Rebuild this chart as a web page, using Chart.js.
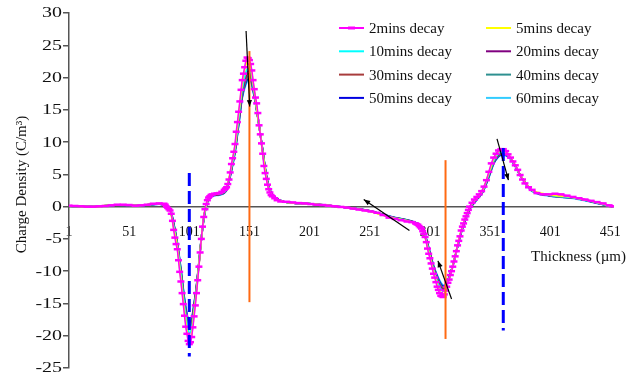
<!DOCTYPE html>
<html>
<head>
<meta charset="utf-8">
<script src="https://cdn.jsdelivr.net/npm/chart.js@4.4.1/dist/chart.umd.min.js"></script>
<style>
  html, body { margin: 0; padding: 0; background: #fff; }
</style>
</head>
<body>
<canvas id="chart" width="638" height="379"></canvas>
<script>
/***********************
 * DATA
 ***********************/
const seriesNames = ["2mins decay", "5mins decay", "10mins decay", "20mins decay",
                     "30mins decay", "40mins decay", "50mins decay", "60mins decay"];
const seriesColors = ["#FF00FF", "#FFFF00", "#00FFFF", "#800080",
                      "#A83C3C", "#2E9090", "#0000E0", "#33CCFF"];

// 2 mins curve (dense, with markers)
const xFine = [
  1, 6, 11, 16, 21, 26, 31, 36, 41, 46, 51, 56, 61, 66, 71, 76, 80,
  81, 82, 83, 84, 85, 86, 87, 88, 89, 90, 91, 92, 93, 94, 95, 96, 97, 98, 99, 100,
  101, 102, 103, 104, 105, 106, 107, 108, 109, 110, 111, 112, 113, 114, 115, 116, 117, 118, 119, 120,
  122, 124, 126, 128, 130, 131, 132,
  133, 134, 135, 136, 137, 138, 139, 140, 141, 142, 143, 144, 145, 146, 147, 148, 149, 150, 151, 152,
  153, 154, 155, 156, 157, 158, 159, 160, 161, 162, 163, 164, 165, 166, 167, 168, 169, 170, 172, 174, 177,
  182, 187, 192, 197, 202, 207, 212, 217, 222, 227, 232, 237, 242, 247, 252, 257, 262, 267, 272, 277, 282, 286, 289,
  290, 291, 292, 293, 294, 295, 296, 297, 298, 299, 300, 301, 302, 303, 304, 305, 306, 307, 308, 309, 310, 311, 312,
  313, 314, 315, 316, 317, 318, 319, 320, 321, 322, 323, 324, 325, 326, 327, 328, 329, 330, 331, 332, 333, 334,
  336, 338, 340, 342, 344, 346, 348, 350, 352, 354, 356, 358, 360, 362, 364, 366, 368, 370, 372, 374, 376, 378, 380,
  383, 386, 390, 395, 400, 405, 410, 415, 420, 425, 430, 435, 440, 445, 450, 453
];
const decay2 = [
  0.15, 0.1, 0.05, 0.0, 0.0, 0.05, 0.1, 0.2, 0.3, 0.3, 0.25, 0.15, 0.2, 0.3, 0.45, 0.5, 0.45,
  0.3, 0.0, -0.2, -0.4, -0.6, -1.1, -2.2, -3.6, -4.8, -5.8, -6.6, -8.3, -10.1, -11.6, -13.4, -15.1, -16.9, -18.6, -19.7, -20.8,
  -21.3, -21.0, -20.2, -18.7, -17.0, -15.3, -13.4, -11.4, -9.3, -7.1, -5.0, -3.1, -1.6, -0.4, 0.4, 1.0, 1.4, 1.6, 1.8, 1.9,
  2.0, 2.05, 2.1, 2.3, 2.6, 2.8, 3.0,
  3.5, 4.2, 5.3, 6.6, 7.5, 8.5, 9.7, 11.6, 13.1, 14.7, 16.3, 18.1, 19.6, 20.6, 21.6, 22.6, 23.1, 23.0, 22.7, 22.1,
  21.1, 19.6, 18.2, 16.9, 16.0, 14.5, 12.6, 11.2, 9.8, 8.2, 6.3, 5.2, 4.3, 3.4, 2.7, 2.2, 1.8, 1.6, 1.3, 1.0, 0.8,
  0.75, 0.65, 0.55, 0.5, 0.4, 0.3, 0.25, 0.15, 0.05, -0.05, -0.15, -0.3, -0.45, -0.6, -0.75, -0.95, -1.3, -1.7, -1.9, -2.1, -2.3, -2.4, -2.6,
  -2.7, -2.8, -3.0, -3.2, -3.4, -3.8, -4.2, -4.7, -5.5, -6.5, -7.3, -8.0, -8.8, -9.6, -10.4, -11.0, -11.7, -12.4, -12.9, -13.4, -13.8, -13.9, -14.0,
  -13.6, -13.0, -12.4, -11.8, -11.3, -10.6, -10.0, -9.3, -8.5, -7.7, -6.9, -6.0, -5.3, -4.6, -3.7, -3.1, -2.6, -2.0, -1.5, -1.0, -0.5, 0.0,
  0.6, 1.1, 1.5, 1.9, 2.4, 3.1, 4.1, 5.4, 6.7, 7.6, 8.2, 8.7, 8.9, 8.9, 8.6, 8.1, 7.6, 7.0, 6.4, 5.7, 4.9, 4.2, 3.6,
  3.0, 2.6, 2.1, 1.9, 1.9, 2.0, 1.9, 1.7, 1.5, 1.3, 1.1, 0.9, 0.7, 0.5, 0.2, 0.05
];

// later decay curves (shared thickness grid)
const xCoarse = [
  1, 20, 40, 60, 76, 82, 85, 88, 91, 94, 97, 99, 101, 103, 105, 107, 109, 111, 113, 116,
  120, 126, 132, 136, 139, 142, 145, 148, 150, 152, 154, 156, 159, 162, 165, 168, 172, 180, 200, 225,
  250, 270, 285, 292, 296, 300, 304, 308, 311, 313, 315, 318, 321, 324, 327, 330, 334, 340, 345, 350,
  354, 358, 361, 364, 368, 372, 377, 385, 400, 420, 440, 453
];
const decay5 = [
  0.1, 0.0, 0.28, 0.2, 0.48,  0.05, -0.5, -3.3, -6.3, -11.2,  -16.2, -19.2, -20.8, -19.8, -16.5,
  -13.1, -9.1, -5.0, -1.7, 0.9,  1.85, 2.05, 2.9, 6.3, 9.4,  14.2, 19.0, 22.0, 22.5, 21.8,
  19.3, 16.7, 12.6, 8.4, 4.5,  2.3, 1.35, 0.75, 0.45, 0.0,  -0.68, -1.75, -2.35, -2.95, -4.1,
  -7.0, -10.0, -12.5, -13.5, -13.4,  -12.3, -10.6, -8.5, -6.0, -3.7,  -2.0, -0.1, 1.4, 2.6, 5.2,
  7.4, 8.5, 8.7, 8.5, 7.6,  6.4, 4.6, 2.7, 1.85, 1.45,  0.65, 0.02
];
const decay10 = [
  0.1, 0.0, 0.25, 0.2, 0.45,  0.1, -0.4, -3.0, -6.0, -10.5,  -15.3, -18.0, -19.6, -18.8, -16.0,
  -12.8, -9.0, -5.0, -1.8, 0.8,  1.8, 2.0, 2.8, 6.0, 9.0,  13.6, 18.2, 20.8, 21.4, 21.0,
  18.9, 16.5, 12.6, 8.5, 4.6,  2.4, 1.4, 0.75, 0.45, 0.0,  -0.65, -1.7, -2.3, -2.9, -4.0,
  -6.8, -9.7, -12.0, -13.0, -13.1,  -12.2, -10.6, -8.5, -6.1, -3.8,  -2.1, -0.2, 1.3, 2.5, 5.0,
  7.1, 8.2, 8.5, 8.3, 7.5,  6.3, 4.6, 2.6, 1.8, 1.4,  0.6, 0.0
];
const decay20 = [
  0.1, 0.0, 0.25, 0.2, 0.44,  0.1, -0.4, -2.9, -5.9, -10.3,  -15.0, -17.6, -19.0, -18.3, -15.7,
  -12.6, -8.9, -5.0, -1.8, 0.8,  1.75, 1.95, 2.75, 5.9, 8.8,  13.3, 17.8, 20.3, 21.0, 20.6,
  18.7, 16.4, 12.6, 8.6, 4.7,  2.4, 1.4, 0.75, 0.45, 0.0,  -0.64, -1.68, -2.28, -2.85, -3.95,
  -6.7, -9.5, -11.8, -12.8, -12.9,  -12.1, -10.5, -8.5, -6.1, -3.9,  -2.2, -0.25, 1.25, 2.45, 4.9,
  7.0, 8.1, 8.4, 8.2, 7.5,  6.3, 4.6, 2.6, 1.75, 1.4,  0.6, 0.0
];
const decay30 = [
  0.1, 0.0, 0.24, 0.19, 0.43,  0.1, -0.35, -2.8, -5.8, -10.1,  -14.8, -17.3, -18.7, -18.0, -15.5,
  -12.5, -8.8, -5.0, -1.9, 0.75,  1.7, 1.9, 2.7, 5.8, 8.7,  13.1, 17.5, 19.9, 20.6, 20.3,
  18.5, 16.3, 12.6, 8.6, 4.8,  2.5, 1.45, 0.75, 0.45, 0.0,  -0.63, -1.66, -2.26, -2.82, -3.9,
  -6.6, -9.4, -11.6, -12.6, -12.7,  -12.0, -10.5, -8.5, -6.1, -3.9,  -2.2, -0.3, 1.2, 2.4, 4.8,
  6.9, 8.0, 8.3, 8.2, 7.5,  6.3, 4.6, 2.6, 1.75, 1.4,  0.6, 0.0
];
const decay40 = [
  0.1, 0.0, 0.23, 0.19, 0.42,  0.12, -0.3, -2.7, -5.7, -9.9,  -14.6, -17.0, -18.4, -17.7, -15.3,
  -12.4, -8.8, -5.0, -1.9, 0.7,  1.7, 1.9, 2.65, 5.7, 8.6,  12.9, 17.2, 19.5, 20.2, 20.0,
  18.3, 16.2, 12.6, 8.7, 4.8,  2.5, 1.45, 0.75, 0.45, 0.0,  -0.62, -1.64, -2.24, -2.8, -3.85,
  -6.5, -9.3, -11.4, -12.4, -12.5,  -11.9, -10.4, -8.5, -6.2, -4.0,  -2.3, -0.35, 1.15, 2.35, 4.7,
  6.8, 7.9, 8.2, 8.1, 7.5,  6.3, 4.6, 2.6, 1.7, 1.35,  0.6, 0.0
];
const decay50 = [
  0.1, 0.0, 0.22, 0.18, 0.41,  0.12, -0.3, -2.6, -5.6, -9.7,  -14.4, -16.7, -18.1, -17.5, -15.1,
  -12.3, -8.7, -5.0, -2.0, 0.7,  1.65, 1.85, 2.6, 5.6, 8.5,  12.7, 17.0, 19.2, 19.8, 19.7,
  18.1, 16.1, 12.6, 8.7, 4.9,  2.6, 1.5, 0.75, 0.45, 0.0,  -0.61, -1.62, -2.22, -2.78, -3.8,
  -6.4, -9.2, -11.2, -12.2, -12.3,  -11.8, -10.4, -8.5, -6.2, -4.0,  -2.3, -0.4, 1.1, 2.3, 4.6,
  6.7, 7.8, 8.1, 8.0, 7.4,  6.3, 4.6, 2.6, 1.7, 1.35,  0.55, 0.0
];
const decay60 = [
  0.1, 0.0, 0.22, 0.18, 0.4,  0.13, -0.25, -2.5, -5.5, -9.6,  -14.2, -16.5, -17.8, -17.3, -15.0,
  -12.2, -8.7, -5.0, -2.0, 0.65,  1.6, 1.8, 2.55, 5.5, 8.4,  12.5, 16.8, 18.9, 19.5, 19.4,
  17.9, 16.0, 12.6, 8.8, 4.9,  2.6, 1.5, 0.75, 0.45, 0.0,  -0.6, -1.6, -2.2, -2.75, -3.75,
  -6.3, -9.1, -11.0, -12.0, -12.2,  -11.7, -10.3, -8.5, -6.2, -4.1,  -2.4, -0.45, 1.05, 2.25, 4.5,
  6.6, 7.7, 8.0, 7.9, 7.4,  6.2, 4.5, 2.5, 1.65, 1.3,  0.5, 0.0
];
const laterCurves = [decay5, decay10, decay20, decay30, decay40, decay50, decay60];

const xTicks = [1, 51, 101, 151, 201, 251, 301, 351, 401, 451];
const xMin = 1, xMax = 454;
const yMin = -25, yMax = 30, yStep = 5;

// drawn-on markers, in data units: [x, yTop, yBottom]
const orangeMarks = [[151, 24.1, -14.8], [314, 7.2, -20.5]];
const blueMarks = [[101, 5.2, -23.2], [362, 9.1, -19.2]];
// arrows: [xFrom, yFrom, xTo, yTo]
const arrows = [[148.2, 27.2, 151.2, 15.5], [284, -3.7, 246, 1.1], [319, -14.3, 307.7, -8.4], [356.8, 10.5, 366.3, 4.1]];

const SERIF = "'Liberation Serif', 'Times New Roman', serif";

/***********************
 * DATASETS
 ***********************/
const datasets = [{
  label: seriesNames[0],
  data: xFine.map((x, i) => ({ x, y: decay2[i] })),
  borderColor: seriesColors[0],
  backgroundColor: seriesColors[0],
  borderWidth: 1.5,
  pointStyle: "line",
  pointRadius: 3.5,
  pointBorderWidth: 2.5,
  pointBorderColor: seriesColors[0]
}].concat(laterCurves.map((vals, k) => ({
  label: seriesNames[k + 1],
  data: xCoarse.map((x, i) => ({ x, y: vals[i] })),
  borderColor: seriesColors[k + 1],
  backgroundColor: seriesColors[k + 1],
  borderWidth: 1.8,
  pointRadius: 0,
  cubicInterpolationMode: "monotone"
})));

/***********************
 * OVERLAY PLUGIN
 ***********************/
function drawArrow(ctx, x1, y1, x2, y2) {
  ctx.beginPath();
  ctx.moveTo(x1, y1);
  ctx.lineTo(x2, y2);
  ctx.stroke();
  const ang = Math.atan2(y2 - y1, x2 - x1), len = 7, w = 0.38;
  ctx.beginPath();
  ctx.moveTo(x2, y2);
  ctx.lineTo(x2 - len * Math.cos(ang - w), y2 - len * Math.sin(ang - w));
  ctx.lineTo(x2 - len * Math.cos(ang + w), y2 - len * Math.sin(ang + w));
  ctx.closePath();
  ctx.fill();
}

const overlay = {
  id: "overlay",
  afterDatasetsDraw(chart) {
    const { ctx, scales: { x, y } } = chart;
    ctx.save();
    ctx.strokeStyle = "#FF6A13";
    ctx.lineWidth = 2;
    orangeMarks.forEach(m => {
      ctx.beginPath();
      ctx.moveTo(x.getPixelForValue(m[0]), y.getPixelForValue(m[1]));
      ctx.lineTo(x.getPixelForValue(m[0]), y.getPixelForValue(m[2]));
      ctx.stroke();
    });
    ctx.strokeStyle = "#0000FF";
    ctx.lineWidth = 3;
    ctx.setLineDash([13, 5]);
    blueMarks.forEach(m => {
      ctx.beginPath();
      ctx.moveTo(x.getPixelForValue(m[0]), y.getPixelForValue(m[1]));
      ctx.lineTo(x.getPixelForValue(m[0]), y.getPixelForValue(m[2]));
      ctx.stroke();
    });
    ctx.setLineDash([]);
    ctx.strokeStyle = "#000";
    ctx.fillStyle = "#000";
    ctx.lineWidth = 1.2;
    arrows.forEach(a => drawArrow(ctx,
      x.getPixelForValue(a[0]), y.getPixelForValue(a[1]),
      x.getPixelForValue(a[2]), y.getPixelForValue(a[3])));
    ctx.restore();
  },
  afterDraw(chart) {
    const { ctx, chartArea, scales: { y } } = chart;
    ctx.save();
    ctx.fillStyle = "#111";

    // y tick labels (the source draws them a bit wide)
    ctx.font = "15px " + SERIF;
    ctx.textAlign = "right";
    ctx.textBaseline = "middle";
    y.ticks.forEach(t => {
      ctx.save();
      ctx.translate(y.right - 7, y.getPixelForValue(t.value) + 0.5);
      ctx.scale(1.33, 1);
      ctx.fillText(String(t.value), 0, 0);
      ctx.restore();
    });

    // legend, two columns
    ctx.textAlign = "left";
    chart.data.datasets.forEach((ds, i) => {
      const col = i % 2, row = Math.floor(i / 2);
      const lx = col === 0 ? 339 : 486;
      const ly = 28 + row * 23.3;
      ctx.strokeStyle = ds.borderColor;
      ctx.lineWidth = 2;
      ctx.beginPath();
      ctx.moveTo(lx, ly);
      ctx.lineTo(lx + 25, ly);
      ctx.stroke();
      if (i === 0) {
        ctx.fillStyle = ds.borderColor;
        ctx.fillRect(lx + 9, ly - 1.5, 7, 3);
      }
      ctx.fillStyle = "#111";
      ctx.fillText(ds.label, lx + 30, ly + 1);
    });

    // axis titles
    ctx.textAlign = "right";
    ctx.fillText("Thickness (\u00b5m)", chartArea.right + 12, y.getPixelForValue(0) + 50);
    ctx.translate(22, (chartArea.top + chartArea.bottom) / 2 - 6);
    ctx.rotate(-Math.PI / 2);
    ctx.textAlign = "center";
    ctx.fillText("Charge Density (C/m\u00b3)", 0, 0);
    ctx.restore();
  }
};

/***********************
 * CHART
 ***********************/
new Chart(document.getElementById("chart"), {
  type: "line",
  data: { datasets },
  plugins: [overlay],
  options: {
    responsive: false,
    animation: false,
    events: [],
    layout: { padding: { left: 0, top: 13, right: 24, bottom: 11 } },
    plugins: { legend: { display: false }, tooltip: { enabled: false } },
    scales: {
      x: {
        type: "linear",
        min: xMin,
        max: xMax,
        position: { y: 0 },
        afterBuildTicks: s => { s.ticks = xTicks.map(v => ({ value: v })); },
        grid: { drawOnChartArea: false, drawTicks: false },
        border: { color: "#555", width: 1.5 },
        ticks: { padding: 17, maxRotation: 0, autoSkip: false, color: "#111", font: { family: SERIF, size: 14 } }
      },
      y: {
        position: "left",
        min: yMin,
        max: yMax,
        afterFit: s => { s.width = 69; },
        grid: { drawOnChartArea: false, tickLength: 6, color: "#555", lineWidth: 1.5 },
        border: { color: "#555", width: 1.5 },
        ticks: { stepSize: yStep, padding: 2, color: "rgba(0,0,0,0)", font: { family: SERIF, size: 14 } }
      }
    }
  }
});
</script>
</body>
</html>
